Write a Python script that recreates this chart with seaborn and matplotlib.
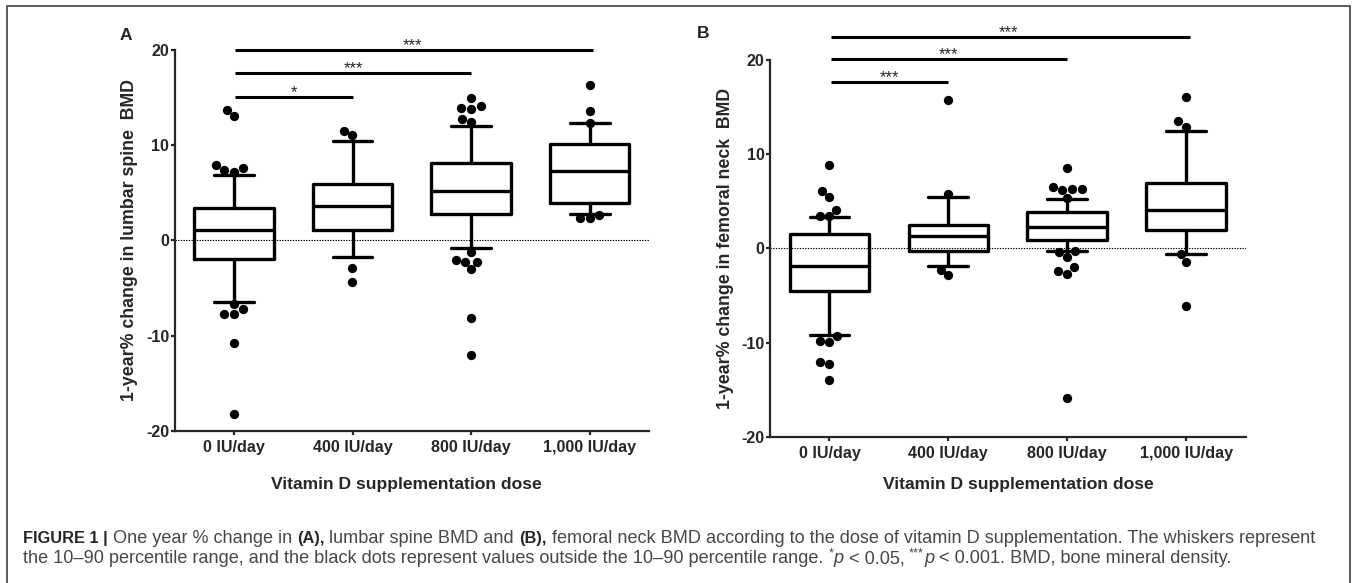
import numpy as np
import pandas as pd
import matplotlib
matplotlib.use("Agg")
import matplotlib.pyplot as plt
import seaborn as sns
from matplotlib.lines import Line2D
from matplotlib.transforms import IdentityTransform

# ---------------- data ----------------
doses = ["0 IU/day", "400 IU/day", "800 IU/day", "1,000 IU/day"]

# Panel A: lumbar spine BMD (box = IQR, whiskers = 10th-90th percentile)
a_p10 = [-6.5, -1.75, -0.8, 2.75]
a_q1 = [-2.0, 1.1, 2.8, 3.9]
a_med = [1.1, 3.6, 5.2, 7.3]
a_q3 = [3.4, 5.9, 8.1, 10.1]
a_p90 = [6.9, 10.4, 12.0, 12.3]
a_out_0 = [13.7, 13.05, 7.9, 7.6, 7.4, 7.2, -6.7, -7.25, -7.7, -7.7, -10.8, -18.2]
a_out_400 = [11.5, 11.05, -2.95, -4.35]
a_out_800 = [15.0, 14.1, 13.95, 13.85, 12.7, 12.45, -1.25, -2.05, -2.25, -2.25, -3.05, -8.15, -12.0]
a_out_1000 = [16.3, 13.6, 12.35, 2.65, 2.4, 2.4]
a_sig_to = [1, 2, 3]
a_sig_label = ["*", "***", "***"]
a_sig_y = [15.1, 17.6, 20.0]

# Panel B: femoral neck BMD
b_p10 = [-9.25, -1.85, -0.3, -0.55]
b_q1 = [-4.5, -0.3, 0.9, 1.9]
b_med = [-1.9, 1.3, 2.3, 4.1]
b_q3 = [1.5, 2.5, 3.9, 6.9]
b_p90 = [3.3, 5.4, 5.2, 12.5]
b_out_0 = [8.9, 6.1, 5.5, 4.1, 3.4, 3.4, -9.3, -9.85, -9.95, -12.05, -12.3, -14.0]
b_out_400 = [15.7, 5.8, -2.25, -2.85]
b_out_800 = [8.5, 6.5, 6.35, 6.35, 6.15, 5.3, -0.3, -0.4, -0.9, -2.0, -2.4, -2.75, -15.9]
b_out_1000 = [16.1, 13.5, 12.9, -0.55, -1.4, -6.1]
b_sig_to = [1, 2, 3]
b_sig_label = ["***", "***", "***"]
b_sig_y = [17.7, 20.1, 22.45]

y_ticks = [-20, -10, 0, 10, 20]
x_label = "Vitamin D supplementation dose"
a_ylabel = "1-year% change in lumbar spine  BMD"
b_ylabel = "1-year% change in femoral neck  BMD"

# ---------------- style ----------------
sns.set_style("ticks")
plt.rcParams["font.family"] = ["Liberation Sans", "DejaVu Sans"]

W, H = 1357, 583
fig = plt.figure(figsize=(W / 100, H / 100), dpi=100)


def px_axes(left, right, top, bottom):
    return fig.add_axes([left / W, (H - bottom) / H, (right - left) / W, (bottom - top) / H])


axA = px_axes(174.6, 649.0, 50.0, 430.7)
axB = px_axes(770.0, 1245.6, 60.0, 436.7)

LW_BOX = 2.4
TICK_FS = 11.6


def draw_panel(ax, p10, q1, med, q3, p90, outs, sig_to, sig_lab, sig_y):
    rows = [(d, v) for d, o in zip(doses, outs) for v in o]
    df = pd.DataFrame(rows, columns=["dose", "value"])
    sns.swarmplot(data=df, x="dose", y="value", order=doses, color="black",
                  size=6.7, linewidth=0, ax=ax, zorder=4)
    stats = [dict(whislo=a, q1=b, med=c, q3=d, whishi=e, fliers=[])
             for a, b, c, d, e in zip(p10, q1, med, q3, p90)]
    lp = dict(color="black", linewidth=LW_BOX)
    ax.bxp(stats, positions=range(len(doses)), widths=0.67, showfliers=False,
           manage_ticks=False, boxprops=lp, whiskerprops=lp, capprops=lp,
           medianprops=lp, zorder=3)
    ax.axhline(0, color="black", lw=0.8, ls=(0, (1.2, 1.2)), zorder=1)
    for k, lab, y in zip(sig_to, sig_lab, sig_y):
        ax.plot([0.01, k + (0.03 if k == 3 else 0)], [y, y], color="black",
                lw=2.2, solid_capstyle="butt", clip_on=False, zorder=5)
        ax.annotate(lab, xy=((0.01 + k) / 2, y), xytext=(0, -0.3),
                    textcoords="offset points", ha="center", va="baseline",
                    fontsize=12, annotation_clip=False)
    ax.set_xlim(-0.5, len(doses) - 0.5)
    ax.set_ylim(-20, 20)
    ax.set_yticks(y_ticks)
    ax.set_yticklabels([str(t) for t in y_ticks])
    ax.set_xticks(range(len(doses)))
    ax.set_xticklabels(doses)
    ax.set_xlabel("")
    ax.set_ylabel("")
    sns.despine(ax=ax)
    for s in ("left", "bottom"):
        ax.spines[s].set_linewidth(1.6)
    ax.tick_params(axis="y", length=2.6, width=1.6, pad=1.2, labelsize=TICK_FS)
    ax.tick_params(axis="x", length=2.6, width=1.6, pad=3.8, labelsize=TICK_FS)
    for t in ax.get_xticklabels() + ax.get_yticklabels():
        t.set_fontweight("bold")
    ax.set_facecolor("none")


draw_panel(axA, a_p10, a_q1, a_med, a_q3, a_p90,
           [a_out_0, a_out_400, a_out_800, a_out_1000], a_sig_to, a_sig_label, a_sig_y)
draw_panel(axB, b_p10, b_q1, b_med, b_q3, b_p90,
           [b_out_0, b_out_400, b_out_800, b_out_1000], b_sig_to, b_sig_label, b_sig_y)

px = IdentityTransform()


def ptext(x, y_top, s, **kw):
    return fig.text(x, H - y_top, s, transform=px, **kw)


# panel letters, axis titles
ptext(126, 36, "A", ha="center", va="center", fontsize=12.5, fontweight="bold")
ptext(703, 34, "B", ha="center", va="center", fontsize=12.5, fontweight="bold")
ptext(129, 240, a_ylabel, rotation=90, ha="center", va="center", fontsize=12.8, fontweight="bold")
ptext(726, 248.5, b_ylabel, rotation=90, ha="center", va="center", fontsize=12.8, fontweight="bold")
ptext(406, 484, x_label, ha="center", va="center", fontsize=12.6, fontweight="bold")
ptext(1018, 484, x_label, ha="center", va="center", fontsize=12.6, fontweight="bold")

# frame
frame_c = "#5a5a5a"
for xs, ys in (([7, 7], [0, H - 6]), ([1350, 1350], [0, H - 6]), ([7, 1350], [H - 6, H - 6])):
    fig.add_artist(Line2D(xs, ys, transform=px, color=frame_c, lw=1.4))

# caption with mixed styles
renderer = fig.canvas.get_renderer()
CAP_C = "#474747"


def seg_props(style, fs):
    p = dict(fontsize=fs, color=CAP_C)
    if style == "b":
        p.update(fontweight="bold", color="#262626", fontsize=fs * 0.9)
    elif style == "i":
        p.update(fontstyle="italic")
    elif style == "sup":
        p.update(fontsize=fs * 0.7)
    return p


def seg_width(txt, style, fs):
    pr = seg_props(style, fs)
    t1 = fig.text(0, 0, "x" + txt + "x", **pr)
    t2 = fig.text(0, 0, "xx", **pr)
    w = t1.get_window_extent(renderer).width - t2.get_window_extent(renderer).width
    t1.remove()
    t2.remove()
    return w


line1 = [("FIGURE 1 |", "b"), (" One year % change in ", "n"), ("(A),", "b"),
         (" lumbar spine BMD and ", "n"), ("(B),", "b"),
         (" femoral neck BMD according to the dose of vitamin D supplementation. The whiskers represent", "n")]
line2 = [("the 10\u201390 percentile range, and the black dots represent values outside the 10\u201390 percentile range. ", "n"),
         ("*", "sup"), ("p", "i"), (" < 0.05, ", "n"), ("***", "sup"), ("p", "i"),
         (" < 0.001. BMD, bone mineral density.", "n")]

base_fs = 10.0
w1 = sum(seg_width(t, s, base_fs) for t, s in line1)
cap_fs = base_fs * (1325 - 23) / w1


def draw_line(segs, x0, y_base_top, fs):
    x = x0
    for t, s in segs:
        pr = seg_props(s, fs)
        dy = 0.35 * fs * 100 / 72 if s == "sup" else 0
        fig.text(x, H - y_base_top + dy, t, transform=px, ha="left", va="baseline", **pr)
        x += seg_width(t, s, fs)


draw_line(line1, 23, 543, cap_fs)
draw_line(line2, 23, 563, cap_fs)

fig.savefig("out.png", dpi=100)
